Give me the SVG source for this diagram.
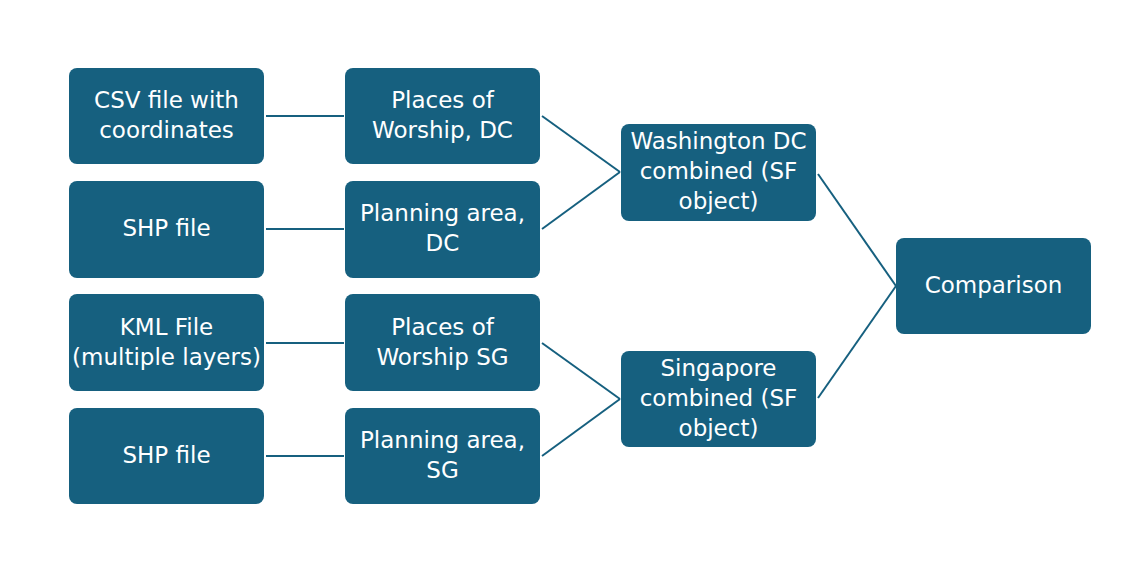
<svg xmlns="http://www.w3.org/2000/svg" width="1137" height="587" viewBox="0 0 1137 587">
<style>
.box{fill:#16607F}
.t{font-family:"DejaVu Sans","Open Sans",sans-serif;font-size:23px;fill:#fff;text-anchor:middle}
.c{stroke:#16607F;stroke-width:2;fill:none}
</style>
<rect width="1137" height="587" fill="#fff"/>
<g id="connectors">
<line class="c" x1="266" y1="116" x2="344" y2="116"/>
<line class="c" x1="266" y1="229" x2="344" y2="229"/>
<line class="c" x1="266" y1="343" x2="344" y2="343"/>
<line class="c" x1="266" y1="456" x2="344" y2="456"/>
<line class="c" x1="542" y1="116" x2="620" y2="172"/>
<line class="c" x1="542" y1="229" x2="620" y2="172"/>
<line class="c" x1="542" y1="343" x2="620" y2="399"/>
<line class="c" x1="542" y1="456" x2="620" y2="399"/>
<line class="c" x1="818" y1="174" x2="896" y2="286"/>
<line class="c" x1="818" y1="398" x2="896" y2="286"/>
</g>
<g id="csv"><rect class="box" x="69" y="68" width="195" height="96" rx="8"/><text class="t" x="166.5" y="108">CSV file with</text><text class="t" x="166.5" y="138">coordinates</text></g>
<g id="shp-dc"><rect class="box" x="69" y="181" width="195" height="97" rx="8"/><text class="t" x="166.5" y="236">SHP file</text></g>
<g id="kml"><rect class="box" x="69" y="294" width="195" height="97" rx="8"/><text class="t" x="166.5" y="335">KML File</text><text class="t" x="166.5" y="365">(multiple layers)</text></g>
<g id="shp-sg"><rect class="box" x="69" y="408" width="195" height="96" rx="8"/><text class="t" x="166.5" y="463">SHP file</text></g>
<g id="pow-dc"><rect class="box" x="345" y="68" width="195" height="96" rx="8"/><text class="t" x="442.5" y="108">Places of</text><text class="t" x="442.5" y="138">Worship, DC</text></g>
<g id="pa-dc"><rect class="box" x="345" y="181" width="195" height="97" rx="8"/><text class="t" x="442.5" y="221">Planning area,</text><text class="t" x="442.5" y="251">DC</text></g>
<g id="pow-sg"><rect class="box" x="345" y="294" width="195" height="97" rx="8"/><text class="t" x="442.5" y="335">Places of</text><text class="t" x="442.5" y="365">Worship SG</text></g>
<g id="pa-sg"><rect class="box" x="345" y="408" width="195" height="96" rx="8"/><text class="t" x="442.5" y="448">Planning area,</text><text class="t" x="442.5" y="478">SG</text></g>
<g id="dc"><rect class="box" x="621" y="124" width="195" height="97" rx="8"/><text class="t" x="718.5" y="149">Washington DC</text><text class="t" x="718.5" y="179">combined (SF</text><text class="t" x="718.5" y="209">object)</text></g>
<g id="sg"><rect class="box" x="621" y="351" width="195" height="96" rx="8"/><text class="t" x="718.5" y="376">Singapore</text><text class="t" x="718.5" y="406">combined (SF</text><text class="t" x="718.5" y="436">object)</text></g>
<g id="comparison"><rect class="box" x="896" y="238" width="195" height="96" rx="8"/><text class="t" x="993.5" y="293">Comparison</text></g>
</svg>
